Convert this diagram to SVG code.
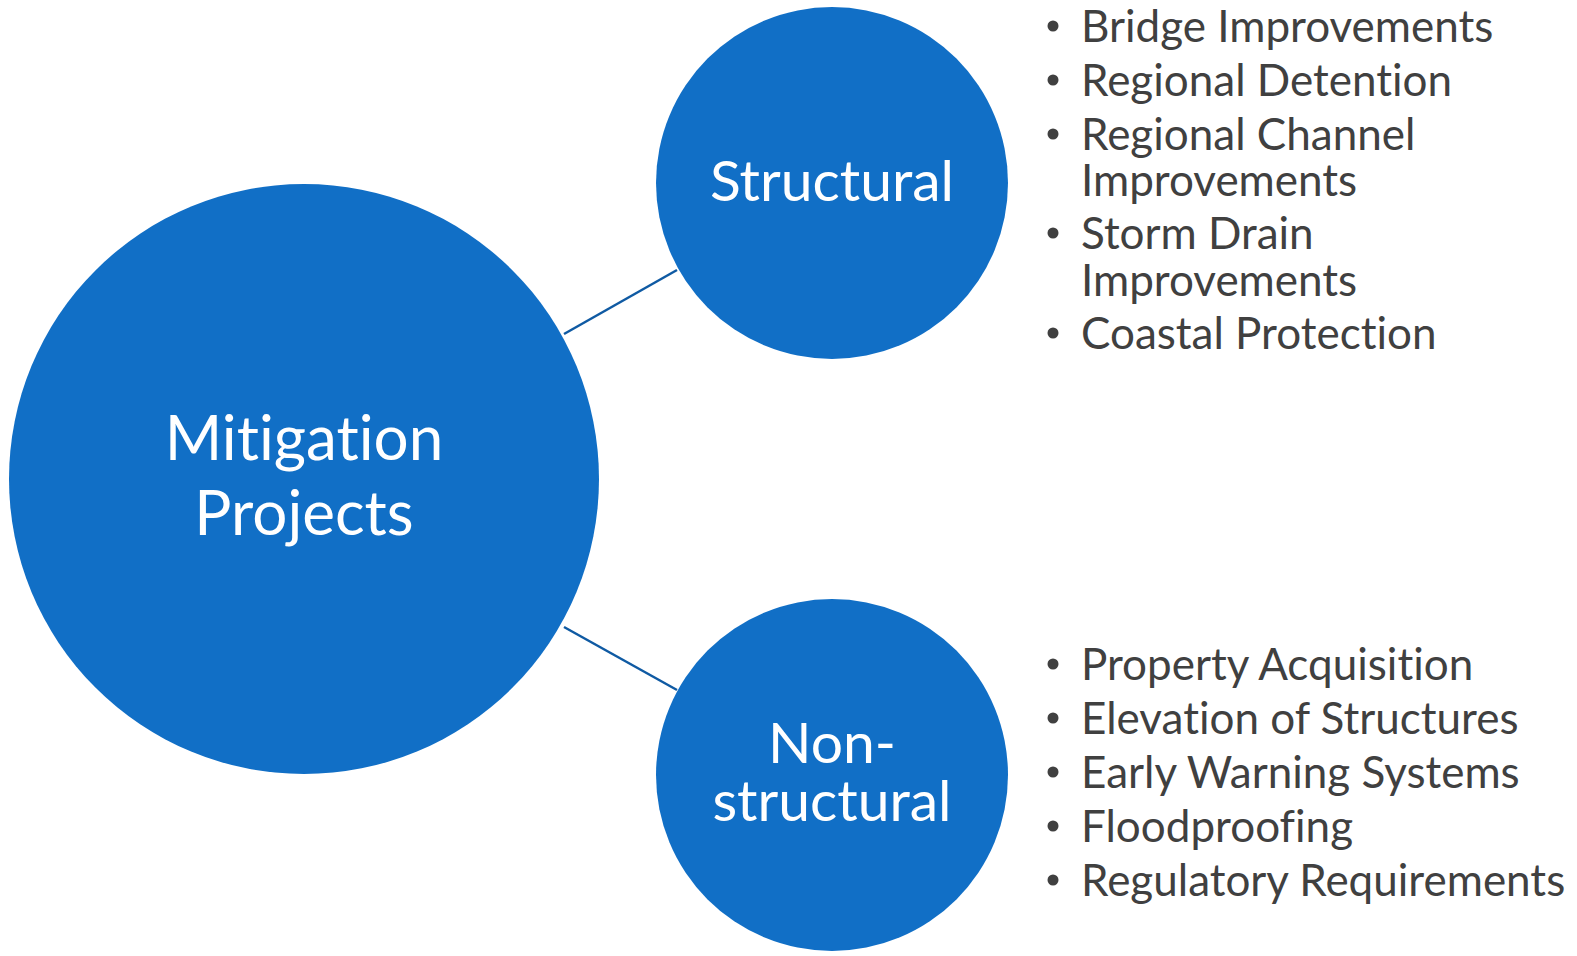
<svg xmlns="http://www.w3.org/2000/svg" width="1577" height="956" viewBox="0 0 1577 956">
<style>
text{font-variant-ligatures:none;font-feature-settings:"liga" 0,"clig" 0}
.node{fill:#116fc6}
.lbl{fill:#ffffff;font-family:Lato,"Open Sans",sans-serif;text-anchor:middle}
.item{fill:#404040;font-family:Lato,"Open Sans",sans-serif;font-size:44px}
.conn{stroke:#0f5aa3;stroke-width:2.5;fill:none}
</style>
<rect width="1577" height="956" fill="#ffffff"/>
<g id="connectors">
<line class="conn" x1="564" y1="334" x2="677" y2="270"/>
<line class="conn" x1="564" y1="627" x2="677" y2="690"/>
</g>
<g id="mitigation">
<circle class="node" cx="304" cy="479" r="295"/>
<text class="lbl" font-size="62" x="304" y="460">Mitigation</text>
<text class="lbl" font-size="62" x="304" y="535">Projects</text>
</g>
<g id="structural">
<circle class="node" cx="832" cy="183" r="176"/>
<text class="lbl" font-size="57" x="832" y="201">Structural</text>
</g>
<g id="nonstructural">
<circle class="node" cx="832" cy="775" r="176"/>
<text class="lbl" font-size="57" x="832" y="763">Non-</text>
<text class="lbl" font-size="57" x="832" y="821">structural</text>
</g>
<g id="structural-list" class="item">
<circle cx="1053" cy="26" r="5.5" fill="#404040"/><text x="1081" y="42">Bridge Improvements</text>
<circle cx="1053" cy="80" r="5.5" fill="#404040"/><text x="1081" y="96">Regional Detention</text>
<circle cx="1053" cy="134" r="5.5" fill="#404040"/><text x="1081" y="150">Regional Channel</text>
<text x="1081" y="196">Improvements</text>
<circle cx="1053" cy="233" r="5.5" fill="#404040"/><text x="1081" y="249">Storm Drain</text>
<text x="1081" y="296">Improvements</text>
<circle cx="1053" cy="333" r="5.5" fill="#404040"/><text x="1081" y="349">Coastal Protection</text>
</g>
<g id="nonstructural-list" class="item">
<circle cx="1053" cy="664" r="5.5" fill="#404040"/><text x="1081" y="680">Property Acquisition</text>
<circle cx="1053" cy="718" r="5.5" fill="#404040"/><text x="1081" y="734">Elevation of Structures</text>
<circle cx="1053" cy="772" r="5.5" fill="#404040"/><text x="1081" y="788">Early Warning Systems</text>
<circle cx="1053" cy="826" r="5.5" fill="#404040"/><text x="1081" y="842">Floodproofing</text>
<circle cx="1053" cy="880" r="5.5" fill="#404040"/><text x="1081" y="896">Regulatory Requirements</text>
</g>
</svg>
